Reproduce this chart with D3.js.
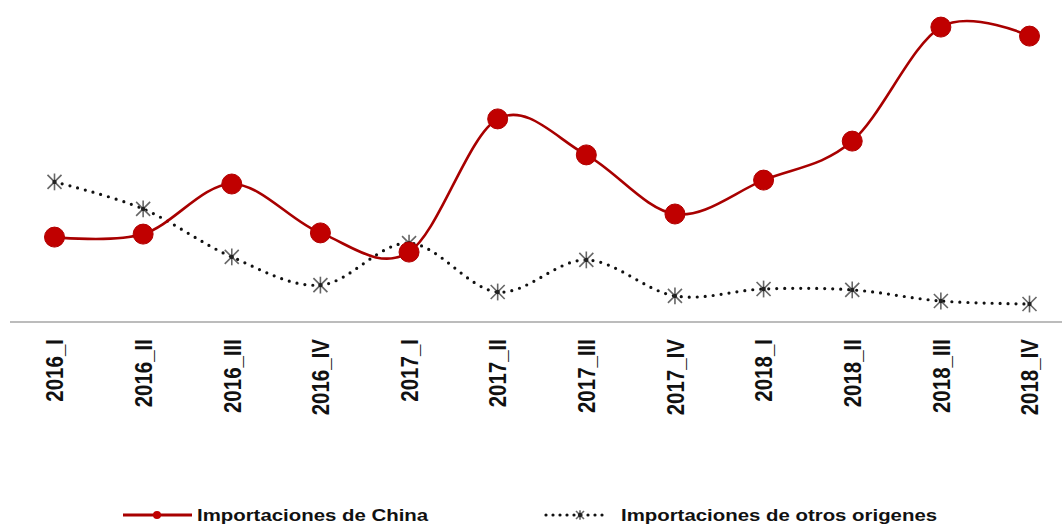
<!DOCTYPE html>
<html>
<head>
<meta charset="utf-8">
<script src="https://cdn.jsdelivr.net/npm/d3@7"></script>
<style>
  body { margin: 0; background: #fff; }
  svg { display: block; font-family: "Liberation Sans", Arial, sans-serif; }
</style>
</head>
<body>
<div id="chart"></div>
<script>
const categories = ["2016_I", "2016_II", "2016_III", "2016_IV", "2017_I", "2017_II",
    "2017_III", "2017_IV", "2018_I", "2018_II", "2018_III", "2018_IV"]
const china = [28.3, 29.3, 46, 29.7, 23.3, 67.7, 55.7, 36, 47.3, 60.3, 98.3, 95.3]
const otros = [46.7, 37.7, 21.7, 12.3, 26.3, 10, 20.7, 8.7, 11, 10.7, 7, 6]
const seriesNames = ["Importaciones de China", "Importaciones de otros origenes"]

const width = 1062, height = 526
const colors = {
    red: '#c00000',
    redLine: '#a80000',
    dots: '#111',
    star: '#666',
    axis: '#a6a6a6'
}

const svg = d3.select('#chart').append('svg')
    .attr('width', width)
    .attr('height', height)

const x = d3.scalePoint()
    .domain(categories)
    .range([54.5, 1029.5])

const y = d3.scaleLinear()
    .domain([0, 100])
    .range([322, 22])

const curve = d3.curveCatmullRom.alpha(0)

// x axis line + rotated labels
const xAxis = svg.append('g')
    .attr('transform', 'translate(0,' + y(0) + ')')
    .call(d3.axisBottom(x).tickSize(0).tickPadding(0))
xAxis.select('.domain').remove()
xAxis.append('line')
    .attr('x1', 10).attr('x2', width)
    .attr('stroke', colors.axis).attr('stroke-width', 1.5)
xAxis.selectAll('.tick text')
    .attr('fill', '#111')
    .attr('font-size', 20.5)
    .attr('font-weight', 'bold')
    .attr('text-anchor', 'end')
    .attr('dy', '0.35em')
    .attr('transform', 'translate(0,17) rotate(-90) scale(1,1.15)')

// otros: dotted line with star markers
const lineOtros = d3.line()
    .x((d, i) => x(categories[i]))
    .y(d => y(d))
    .curve(curve)

svg.append('path')
    .datum(otros)
    .attr('d', lineOtros)
    .attr('fill', 'none')
    .attr('stroke', colors.dots)
    .attr('stroke-width', 3.2)
    .attr('stroke-linecap', 'round')
    .attr('stroke-dasharray', '0 8')

function star(g, r) {
    g.append('line').attr('x1', -r).attr('y1', -r).attr('x2', r).attr('y2', r)
    g.append('line').attr('x1', -r).attr('y1', r).attr('x2', r).attr('y2', -r)
    g.append('line').attr('x1', 0).attr('y1', -r * 1.2).attr('x2', 0).attr('y2', r * 1.2)
    g.selectAll('line').attr('stroke', colors.star).attr('stroke-width', 1.6)
    g.append('circle').attr('r', 2.2).attr('fill', '#222')
}

svg.selectAll('.star')
    .data(otros)
    .join('g')
    .attr('class', 'star')
    .attr('transform', (d, i) => 'translate(' + x(categories[i]) + ',' + y(d) + ')')
    .each(function() { star(d3.select(this), 7) })

// china: smooth red line with dots
const lineChina = d3.line()
    .x((d, i) => x(categories[i]))
    .y(d => y(d))
    .curve(curve)

svg.append('path')
    .datum(china)
    .attr('d', lineChina)
    .attr('fill', 'none')
    .attr('stroke', colors.redLine)
    .attr('stroke-width', 2.6)

svg.selectAll('.dot')
    .data(china)
    .join('circle')
    .attr('class', 'dot')
    .attr('cx', (d, i) => x(categories[i]))
    .attr('cy', d => y(d))
    .attr('r', 10)
    .attr('fill', colors.red)
    .attr('stroke', '#b00000')
    .attr('stroke-width', 1)

// legend
const legend = svg.append('g').attr('transform', 'translate(0,515)')

legend.append('line')
    .attr('x1', 123).attr('x2', 192)
    .attr('stroke', colors.redLine).attr('stroke-width', 3)
legend.append('circle')
    .attr('cx', 157).attr('r', 4).attr('fill', colors.red)
legend.append('text')
    .attr('x', 197).attr('dy', '0.35em')
    .attr('font-size', 17).attr('font-weight', 'bold').attr('fill', '#111')
    .attr('transform', 'translate(197,0) scale(1.2,1) translate(-197,0)')
    .text(seriesNames[0])

legend.append('line')
    .attr('x1', 546).attr('x2', 609)
    .attr('stroke', colors.dots).attr('stroke-width', 3.2)
    .attr('stroke-linecap', 'round').attr('stroke-dasharray', '0 7')
const ls = legend.append('g').attr('transform', 'translate(580,0)')
star(ls, 4)
legend.append('text')
    .attr('x', 621).attr('dy', '0.35em')
    .attr('font-size', 17).attr('font-weight', 'bold').attr('fill', '#111')
    .attr('transform', 'translate(621,0) scale(1.2,1) translate(-621,0)')
    .text(seriesNames[1])
</script>
</body>
</html>
